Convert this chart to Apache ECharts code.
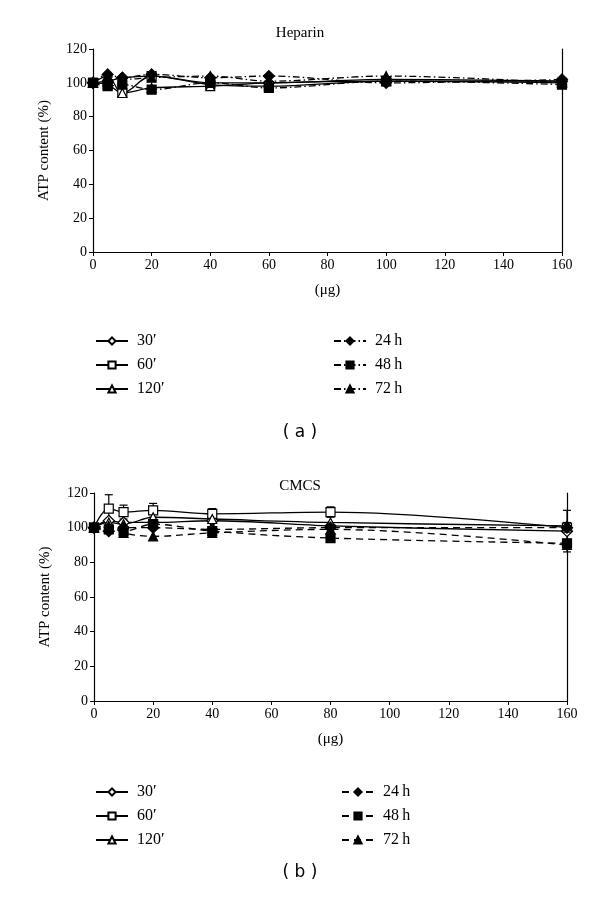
<!DOCTYPE html>
<html><head><meta charset="utf-8">
<script src="https://cdn.jsdelivr.net/npm/echarts@6/dist/echarts.min.js"></script>
<style>html,body{margin:0;padding:0;background:#fff}#c{width:600px;height:899px}</style>
</head><body><div id="c"></div>
<script>
// ---- data ----
const doseA = [0, 5, 10, 20, 40, 60, 100, 160];
const hep30  = [100, 101, 103, 104, 100, 100, 102, 101];
const hep60  = [100, 99, 94, 104, 99, 98, 101, 100];
const hep120 = [100, 104, 94, 97, 98, 100, 101, 101];
const hep24h = [100, 105, 103, 105, 103, 104, 100, 102];
const hep48h = [100, 98, 99, 96, 100, 97, 101, 99];
const hep72h = [100, 104, 102, 103, 104, 101, 104, 100];

const doseB = [0, 5, 10, 20, 40, 80, 160];
const cm30  = [100, 104, 103, 103, 104, 101, 98];
const cm60  = [100, 111, 109, 110, 108, 109, 100];
const cm120 = [100, 103, 102, 106, 105, 103, 101];
const cm24h = [100, 98, 100, 100, 99, 100, 100];
const cm48h = [100, 99, 98, 102, 98, 94, 91];
const cm72h = [100, 101, 97, 95, 97, 99, 90];
const cm60err = [0, 8, 4, 4, 3, 3, 3];
const cm30err = [0, 0, 0, 0, 0, 0, 12];

const legendLeft = ['30\u2032', '60\u2032', '120\u2032'];
const legendRight = ['24\u2009h', '48\u2009h', '72\u2009h'];
const titles = ['Heparin', 'CMCS'];
const panelTags = ['( a )', '( b )'];
const xLabel = '(\u03bcg)';
const yLabel = 'ATP content (%)';

// ---- build ----
const serif = 'Liberation Serif';
const pair = (xs, ys) => xs.map((x, i) => [x, ys[i]]);
const dashDot = [7, 3, 1.5, 3];
const dashed = [7, 5];

function mk(prefix, name, xs, ys, symbol, filled, dash, gi) {
  return {
    type: 'line', name: prefix + '|' + name,
    xAxisIndex: gi, yAxisIndex: gi * 2,
    data: pair(xs, ys), smooth: 0.35,
    symbol: symbol, symbolSize: symbol === 'diamond' ? 11 : 9,
    lineStyle: {color: '#000', width: 1.3, type: dash},
    itemStyle: {color: filled ? '#000' : '#fff', borderColor: '#000', borderWidth: 1.2},
    emphasis: {disabled: true}, z: 3
  };
}
function errSeries(xs, ys, es, gi) {
  const d = [];
  xs.forEach((x, i) => { if (es[i] > 0) d.push([x, ys[i] - es[i], ys[i] + es[i]]); });
  return {
    type: 'custom', xAxisIndex: gi, yAxisIndex: gi * 2, data: d, z: 2,
    renderItem: (params, api) => {
      const lo = api.coord([api.value(0), api.value(1)]);
      const hi = api.coord([api.value(0), api.value(2)]);
      const w = 4;
      const st = {stroke: '#000', lineWidth: 1.2};
      return {type: 'group', children: [
        {type: 'line', shape: {x1: lo[0], y1: lo[1], x2: hi[0], y2: hi[1]}, style: st},
        {type: 'line', shape: {x1: lo[0] - w, y1: lo[1], x2: lo[0] + w, y2: lo[1]}, style: st},
        {type: 'line', shape: {x1: hi[0] - w, y1: hi[1], x2: hi[0] + w, y2: hi[1]}, style: st}
      ]};
    }
  };
}

const series = [
  mk('A', legendLeft[0], doseA, hep30, 'diamond', false, 'solid', 0),
  mk('A', legendLeft[1], doseA, hep60, 'rect', false, 'solid', 0),
  mk('A', legendLeft[2], doseA, hep120, 'triangle', false, 'solid', 0),
  mk('A', legendRight[0], doseA, hep24h, 'diamond', true, dashDot, 0),
  mk('A', legendRight[1], doseA, hep48h, 'rect', true, dashDot, 0),
  mk('A', legendRight[2], doseA, hep72h, 'triangle', true, dashDot, 0),
  mk('B', legendLeft[0], doseB, cm30, 'diamond', false, 'solid', 1),
  mk('B', legendLeft[1], doseB, cm60, 'rect', false, 'solid', 1),
  mk('B', legendLeft[2], doseB, cm120, 'triangle', false, 'solid', 1),
  mk('B', legendRight[0], doseB, cm24h, 'diamond', true, dashed, 1),
  mk('B', legendRight[1], doseB, cm48h, 'rect', true, dashed, 1),
  mk('B', legendRight[2], doseB, cm72h, 'triangle', true, dashed, 1),
  errSeries(doseB, cm60, cm60err, 1),
  errSeries(doseB, cm30, cm30err, 1)
];

const grids = [
  {left: 93, right: 38, top: 49, height: 203},
  {left: 94, right: 33, top: 493, height: 208}
];
const xAxes = grids.map((g, i) => ({
  type: 'value', gridIndex: i, min: 0, max: 160, interval: 20,
  name: xLabel, nameLocation: 'middle', nameGap: 31,
  nameTextStyle: {fontFamily: serif, fontSize: 15, color: '#000'},
  axisLine: {lineStyle: {color: '#000', width: 1.2}},
  axisTick: {lineStyle: {color: '#000'}, length: 4},
  axisLabel: {fontFamily: serif, fontSize: 14, color: '#000', margin: 6},
  splitLine: {show: false}
}));
const yAxes = [];
grids.forEach((g, i) => {
  yAxes.push({
    type: 'value', gridIndex: i, min: 0, max: 120, interval: 20,
    name: yLabel, nameLocation: 'middle', nameGap: 41,
    nameTextStyle: {fontFamily: serif, fontSize: 15, color: '#000'},
    axisLine: {show: true, lineStyle: {color: '#000', width: 1.2}},
    axisTick: {show: true, lineStyle: {color: '#000'}, length: 4},
    axisLabel: {fontFamily: serif, fontSize: 14, color: '#000', margin: 6},
    splitLine: {show: false}
  });
  yAxes.push({
    type: 'value', gridIndex: i, min: 0, max: 120, position: 'right',
    axisLine: {show: true, lineStyle: {color: '#000', width: 1.2}},
    axisTick: {show: false}, axisLabel: {show: false}, splitLine: {show: false}
  });
});

function leg(prefix, names, left, top) {
  return {
    data: names.map(n => prefix + '|' + n), orient: 'vertical', left: left, top: top,
    itemWidth: 32, itemHeight: 9, itemGap: 8, selectedMode: false,
    formatter: n => n.split('|')[1],
    textStyle: {fontFamily: serif, fontSize: 16, lineHeight: 16, color: '#000', padding: [0, 0, 0, 4]}
  };
}

const option = {
  animation: false,
  backgroundColor: '#fff',
  title: [
    {text: titles[0], left: 'center', top: 21, textStyle: {fontFamily: serif, fontSize: 15, fontWeight: 'normal', color: '#000'}},
    {text: panelTags[0], left: 'center', top: 419, textStyle: {fontFamily: 'DejaVu Sans', fontSize: 17, fontWeight: 'normal', color: '#000'}},
    {text: titles[1], left: 'center', top: 474, textStyle: {fontFamily: serif, fontSize: 15, fontWeight: 'normal', color: '#000'}},
    {text: panelTags[1], left: 'center', top: 859, textStyle: {fontFamily: 'DejaVu Sans', fontSize: 17, fontWeight: 'normal', color: '#000'}}
  ],
  legend: [
    leg('A', legendLeft, 90, 328),
    leg('A', legendRight, 328, 328),
    leg('B', legendLeft, 90, 779),
    leg('B', legendRight, 336, 779)
  ],
  grid: grids, xAxis: xAxes, yAxis: yAxes, series: series
};
const chart = echarts.init(document.getElementById('c'), null, {renderer: 'canvas'});
chart.setOption(option);
</script></body></html>
